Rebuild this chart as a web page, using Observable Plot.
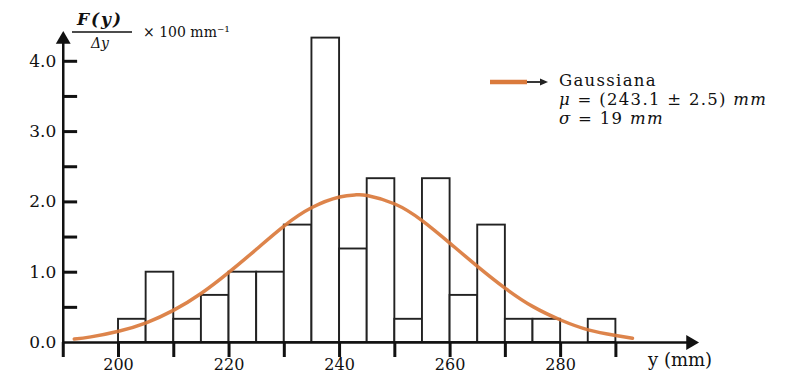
<!DOCTYPE html>
<html>
<head>
<meta charset="utf-8">
<script src="https://cdn.jsdelivr.net/npm/d3@7"></script>
<script src="https://cdn.jsdelivr.net/npm/@observablehq/plot@0.6"></script>
<style>
  html, body { margin: 0; padding: 0; background: #fff; }
</style>
</head>
<body>
<div id="chart"></div>
<script>
// Histogram bins (mm) and heights F(y)/Δy × 100 mm^-1
const binStarts = [200, 205, 210, 215, 220, 225, 230, 235, 240, 245, 250, 255, 260, 265, 270, 275, 280, 285];
const binEnds   = [205, 210, 215, 220, 225, 230, 235, 240, 245, 250, 255, 260, 265, 270, 275, 280, 285, 290];
const binHeights = [0.33, 1.0, 0.33, 0.67, 1.0, 1.0, 1.67, 4.33, 1.33, 2.33, 0.33, 2.33, 0.67, 1.67, 0.33, 0.33, 0, 0.33];

// Gaussian curve
const curveX = [192, 195, 200, 205, 210, 215, 220, 225, 230, 235, 240, 243, 245, 250, 255, 260, 265, 270, 275, 280, 285, 290, 293];
const curveY = [0.05, 0.08, 0.16, 0.28, 0.46, 0.70, 1.00, 1.33, 1.66, 1.92, 2.07, 2.10, 2.09, 1.97, 1.73, 1.41, 1.08, 0.77, 0.51, 0.32, 0.18, 0.10, 0.06];

// Axes
const xDomain = [190, 303.5];
const yDomain = [0, 4.31];
const xTicks = [190, 200, 210, 220, 230, 240, 250, 260, 270, 280, 290];
const xTickLabels = [200, 220, 240, 260, 280];
const yTickLabels = [0, 1, 2, 3, 4];
const yMinorTicks = [0.5, 1.0, 1.5, 2.0, 2.5, 3.0, 3.5, 4.0];

const bins = binStarts.map((s, i) => ({x1: s, x2: binEnds[i], y: binHeights[i]}));
const curve = curveX.map((x, i) => ({x, y: curveY[i]}));

const FONT = "DejaVu Serif";
const ORANGE = "#da7a3c";

function annotations() {
  const g = d3.create("svg:g").attr("font-family", FONT).attr("fill", "#111")
    .attr("text-anchor", "start");
  // y-axis title: F(y)/Δy × 100 mm^-1
  g.append("text").attr("x", 100).attr("y", 20).attr("text-anchor", "middle")
    .attr("dominant-baseline", "middle").attr("font-size", 17).attr("font-style", "italic")
    .attr("font-weight", "bold").attr("letter-spacing", 2).text("F(y)");
  g.append("line").attr("x1", 72).attr("x2", 132).attr("y1", 32).attr("y2", 32)
    .attr("stroke", "#111").attr("stroke-width", 1.5);
  g.append("text").attr("x", 100).attr("y", 44).attr("text-anchor", "middle")
    .attr("dominant-baseline", "middle").attr("font-size", 14).attr("font-style", "italic").text("Δy");
  g.append("text").attr("x", 143).attr("y", 33).attr("dominant-baseline", "middle")
    .attr("font-size", 14).text("× 100 mm⁻¹");
  // x-axis title
  g.append("text").attr("x", 648).attr("y", 361).attr("dominant-baseline", "middle")
    .attr("font-size", 18).text("y (mm)");
  // legend
  g.append("line").attr("x1", 490).attr("x2", 527).attr("y1", 82).attr("y2", 82)
    .attr("stroke", ORANGE).attr("stroke-width", 4.5);
  g.append("line").attr("x1", 527).attr("x2", 542).attr("y1", 82).attr("y2", 82)
    .attr("stroke", "#222").attr("stroke-width", 1.8);
  g.append("path").attr("d", "M548,82 L540,78.5 L540,85.5 Z").attr("fill", "#222");
  const lines = [
    {y: 81, parts: [["Gaussiana", false]]},
    {y: 100, parts: [["μ", true], [" = (243.1 ± 2.5) ", false], ["mm", true]]},
    {y: 119, parts: [["σ", true], [" = 19 ", false], ["mm", true]]}
  ];
  for (const l of lines) {
    const t = g.append("text").attr("x", 559).attr("y", l.y).attr("dominant-baseline", "middle")
      .attr("text-anchor", "start").attr("font-size", 16.5).attr("letter-spacing", 1.3);
    for (const [s, it] of l.parts) {
      t.append("tspan").attr("font-style", it ? "italic" : "normal").text(s);
    }
  }
  return g.node();
}

const chart = Plot.plot({
  width: 790,
  height: 376,
  marginLeft: 62.75,
  marginRight: 100,
  marginTop: 39,
  marginBottom: 34,
  x: {domain: xDomain, label: null},
  y: {domain: yDomain, label: null},
  style: {fontFamily: FONT, fontSize: "18px", background: "#fff", color: "#111"},
  marks: [
    Plot.rectY(bins, {x1: "x1", x2: "x2", y: "y", fill: "#fff", stroke: "#222", strokeWidth: 1.9}),
    Plot.line(curve, {x: "x", y: "y", curve: "natural", stroke: ORANGE, strokeWidth: 3.5, strokeOpacity: 0.92}),
    Plot.ruleY([0], {stroke: "#111", strokeWidth: 2.5}),
    Plot.ruleX([xDomain[0]], {stroke: "#111", strokeWidth: 2.5}),
    Plot.dot([{x: xDomain[1], y: 0}], {x: "x", y: "y", symbol: "triangle", rotate: 90, r: 5.5, fill: "#111", stroke: null}),
    Plot.dot([{x: xDomain[0], y: yDomain[1]}], {x: "x", y: "y", symbol: "triangle", r: 5.5, fill: "#111", stroke: null}),
    Plot.ruleY(yMinorTicks, {x1: xDomain[0], x2: xDomain[0] + 2.6, stroke: "#111", strokeWidth: 3}),
    Plot.axisX({ticks: xTicks, tickSize: 15, strokeWidth: 3, tickPadding: 1, fontSize: 16, label: null,
      tickFormat: d => xTickLabels.includes(d) ? String(d) : ""}),
    Plot.axisY({ticks: yTickLabels, tickSize: 0, tickPadding: 7, fontSize: 17, label: null,
      tickFormat: d => d.toFixed(1)}),
    annotations
  ]
});
document.getElementById("chart").append(chart);
</script>
</body>
</html>
